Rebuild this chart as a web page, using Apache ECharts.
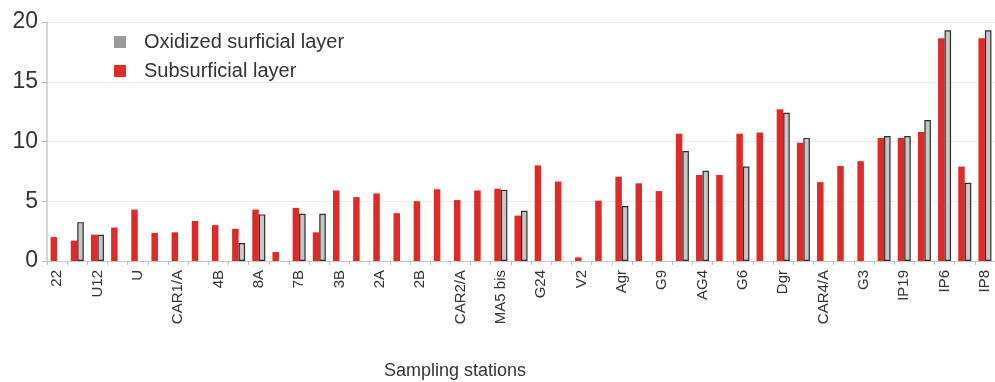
<!DOCTYPE html>
<html>
<head>
<meta charset="utf-8">
<script src="https://cdn.jsdelivr.net/npm/echarts@6/dist/echarts.min.js"></script>
<style>
  html, body { margin: 0; padding: 0; background: #fff; overflow: hidden; }
  #chart { width: 995px; height: 382px; }
</style>
</head>
<body>
<div id="chart"></div>
<script>
// Station names; only every other station carries a printed label
const stations = [
  '22', '', 'U12', '', 'U', '', 'CAR1/A', '', '4B', '', '8A', '', '7B', '',
  '3B', '', '2A', '', '2B', '', 'CAR2/A', '', 'MA5 bis', '', 'G24', '',
  'V2', '', 'Agr', '', 'G9', '', 'AG4', '', 'G6', '', 'Dgr', '', 'CAR4/A', '',
  'G3', '', 'IP19', '', 'IP6', '', 'IP8'
];

// Subsurficial layer values per station
const subsurficial = [
  2.0, 1.7, 2.2, 2.8, 4.3, 2.35, 2.4, 3.35, 3.0, 2.7,
  4.3, 0.75, 4.45, 2.4, 5.9, 5.35, 5.65, 4.0, 5.0, 6.0,
  5.1, 5.9, 6.05, 3.8, 8.0, 6.65, 0.3, 5.05, 7.05, 6.5,
  5.85, 10.65, 7.2, 7.2, 10.65, 10.75, 12.7, 9.9, 6.6, 7.95,
  8.35, 10.3, 10.3, 10.8, 18.65, 7.9, 18.65
];

// Oxidized surficial layer values (null where not sampled)
const oxidized = [
  null, 3.25, 2.2, null, null, null, null, null, null, 1.5,
  3.9, null, 3.95, 3.95, null, null, null, null, null, null,
  null, null, 5.95, 4.2, null, null, null, null, 4.6, null,
  null, 9.2, 7.55, null, 7.9, null, 12.4, 10.3, null, null,
  null, 10.45, 10.45, 11.8, 19.3, 6.55, 19.3
];

const yTicks = { min: 0, max: 20, step: 5 };

const FONT = '"Liberation Sans", Arial, sans-serif';
const RED = '#de2a29';
const GRAY = '#c6c6c6';

const chart = echarts.init(document.getElementById('chart'), null, { renderer: 'canvas' });

chart.setOption({
  animation: false,
  backgroundColor: '#fff',
  textStyle: { fontFamily: FONT },
  grid: { left: 47, right: -5, top: 22, bottom: 121, containLabel: false },
  title: {
    text: 'Sampling stations',
    left: 384,
    top: 362,
    padding: 0,
    textStyle: { fontFamily: FONT, fontSize: 18, fontWeight: 'normal', color: '#333' }
  },
  legend: {
    left: 114,
    top: 32,
    padding: 0,
    orient: 'vertical',
    itemWidth: 12,
    itemHeight: 12,
    itemGap: 9,
    textStyle: { fontFamily: FONT, fontSize: 20, color: '#333', padding: [0, 0, 0, 13] },
    data: [
      { name: 'Oxidized surficial layer', icon: 'rect', itemStyle: { color: '#9b9b9b', borderWidth: 0 } },
      { name: 'Subsurficial layer', icon: 'rect', itemStyle: { color: RED, borderWidth: 0 } }
    ]
  },
  xAxis: {
    type: 'category',
    data: stations,
    boundaryGap: true,
    axisLine: { show: true, lineStyle: { color: '#c8c8c8', width: 1 } },
    axisTick: { show: true, interval: 0, length: 4, lineStyle: { color: '#bbb' } },
    axisLabel: {
      interval: 1,
      rotate: 90,
      margin: 9,
      fontFamily: FONT,
      fontSize: 15,
      color: '#333'
    },
    splitLine: { show: false }
  },
  yAxis: {
    type: 'value',
    min: yTicks.min,
    max: yTicks.max,
    interval: yTicks.step,
    axisLine: { show: true, lineStyle: { color: '#c8c8c8', width: 1.5 } },
    axisTick: { show: true, length: 5, lineStyle: { color: '#bbb' } },
    axisLabel: { margin: 9, fontFamily: FONT, fontSize: 23, color: '#333' },
    splitLine: { show: true, lineStyle: { color: '#ececec', width: 1 } }
  },
  series: [
    {
      name: 'Subsurficial layer',
      type: 'bar',
      data: subsurficial,
      barWidth: 6.5,
      barGap: '0%',
      itemStyle: { color: RED }
    },
    {
      name: 'Oxidized surficial layer',
      type: 'bar',
      data: oxidized,
      barWidth: 6.5,
      barGap: '0%',
      itemStyle: { color: GRAY, borderColor: '#2e2e2e', borderWidth: 1.2 }
    }
  ]
});
</script>
</body>
</html>
